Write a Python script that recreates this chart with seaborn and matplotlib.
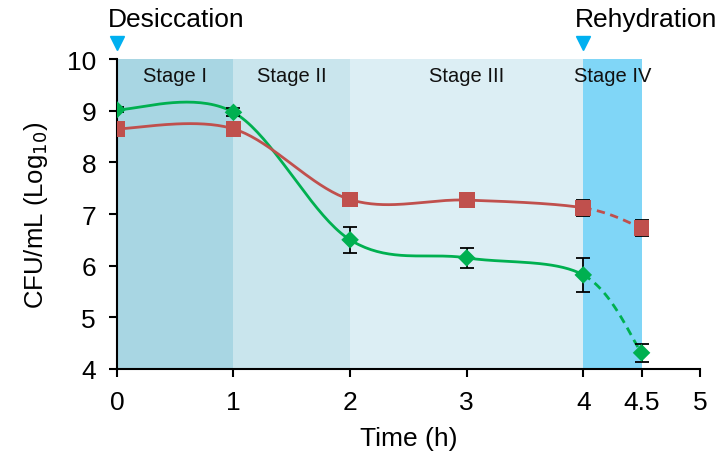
import numpy as np, pandas as pd
import matplotlib
matplotlib.use("Agg")
import matplotlib.pyplot as plt
import seaborn as sns

# data
time_h = [0, 1, 2, 3, 4, 4.5]
green_cfu = [9.02, 8.97, 6.50, 6.15, 5.82, 4.31]
green_err = [0.05, 0.08, 0.25, 0.20, 0.33, 0.18]
red_cfu = [8.65, 8.65, 7.28, 7.27, 7.12, 6.73]
red_err = [0.05, 0.06, 0.13, 0.05, 0.15, 0.16]
stage_names = ["Stage I", "Stage II", "Stage III", "Stage IV"]
stage_edges = [0, 1, 2, 4, 4.5]
stage_cols = ["#a8d6e3", "#c9e5ed", "#dceef4", "#80d6f7"]
xticks = [0, 1, 2, 3, 4, 4.5, 5]
xticklabels = ["0", "1", "2", "3", "4", "4.5", "5"]

GREEN = "#00b050"
RED = "#c0504d"
TRI = "#00b0f0"


def smooth(xs, ys, n=40):
    # excel style smoothing: bezier with catmull-rom control points
    P = np.column_stack([xs, ys]).astype(float)
    P = np.vstack([P[0], P, P[-1]])
    segs = []
    t = np.linspace(0, 1, n)[:, None]
    for i in range(1, len(P) - 2):
        p0, p1, p2, p3 = P[i - 1], P[i], P[i + 1], P[i + 2]
        c1 = p1 + (p2 - p0) / 6
        c2 = p2 - (p3 - p1) / 6
        seg = ((1 - t) ** 3) * p1 + 3 * ((1 - t) ** 2) * t * c1 + 3 * (1 - t) * t ** 2 * c2 + t ** 3 * p2
        segs.append(seg)
    return segs


sns.set_theme(style="ticks")
plt.rcParams["font.family"] = ["Liberation Sans", "DejaVu Sans"]
plt.rcParams.update({"text.color": "black", "axes.labelcolor": "black",
                     "xtick.color": "black", "ytick.color": "black"})

fig = plt.figure(figsize=(7.26, 4.56), dpi=100)
ax = fig.add_axes([0.161, 0.189, 0.803, 0.679])

for i, name in enumerate(stage_names):
    ax.axvspan(stage_edges[i], stage_edges[i + 1], ymin=0, ymax=1, color=stage_cols[i], lw=0, zorder=0)
    ax.text((stage_edges[i] + stage_edges[i + 1]) / 2, 9.69, name, ha="center", va="center",
            fontsize=14.5, color="#111111", zorder=1)

for vals, col in [(green_cfu, GREEN), (red_cfu, RED)]:
    segs = smooth(time_h, vals)
    solid = np.vstack(segs[:4])
    dashed = segs[4]
    sns.lineplot(x=solid[:, 0], y=solid[:, 1], ax=ax, color=col, lw=2, sort=False, estimator=None, zorder=3)
    sns.lineplot(x=dashed[:, 0], y=dashed[:, 1], ax=ax, color=col, lw=2, sort=False, estimator=None,
                 linestyle=(0, (3, 2)), zorder=3)

ax.errorbar(time_h, red_cfu, yerr=red_err, fmt="none", ecolor="black", elinewidth=1.3, capsize=5, capthick=1.3, zorder=4)
ax.errorbar(time_h, green_cfu, yerr=green_err, fmt="none", ecolor="black", elinewidth=1.3, capsize=5, capthick=1.3, zorder=4)
df = pd.DataFrame({"t": time_h * 2, "v": red_cfu + green_cfu, "s": ["red"] * 6 + ["green"] * 6})
sns.scatterplot(data=df[df.s == "red"], x="t", y="v", ax=ax, marker="s", s=130, color=RED,
                edgecolor="none", zorder=5, legend=False)
sns.scatterplot(data=df[df.s == "green"], x="t", y="v", ax=ax, marker="D", s=80, color=GREEN,
                edgecolor="none", zorder=5, legend=False)

ax.set_xlim(0, 5)
ax.set_ylim(4, 10)
ax.set_xticks(xticks)
ax.set_xticklabels(xticklabels)
ax.set_yticks(range(4, 11))
ax.tick_params(axis="both", labelsize=19, length=6, width=1.5, pad=9)
ax.tick_params(axis="y", pad=9)
for s in ["top", "right"]:
    ax.spines[s].set_visible(False)
for s in ["left", "bottom"]:
    ax.spines[s].set_linewidth(1.5)
    ax.spines[s].set_color("black")
ax.set_xlabel("Time (h)", fontsize=19, labelpad=9)
ax.set_ylabel("CFU/mL (Log$_{10}$)", fontsize=18.5, labelpad=12)

# treatment markers above the plot
ax.plot([0, 4], [10.32, 10.32], "v", color=TRI, ms=10, clip_on=False, zorder=6)
ax.text(-0.08, 10.78, "Desiccation", fontsize=19, ha="left", va="center", clip_on=False)
ax.text(3.93, 10.78, "Rehydration", fontsize=19, ha="left", va="center", clip_on=False)

fig.savefig("out.png", dpi=100)
